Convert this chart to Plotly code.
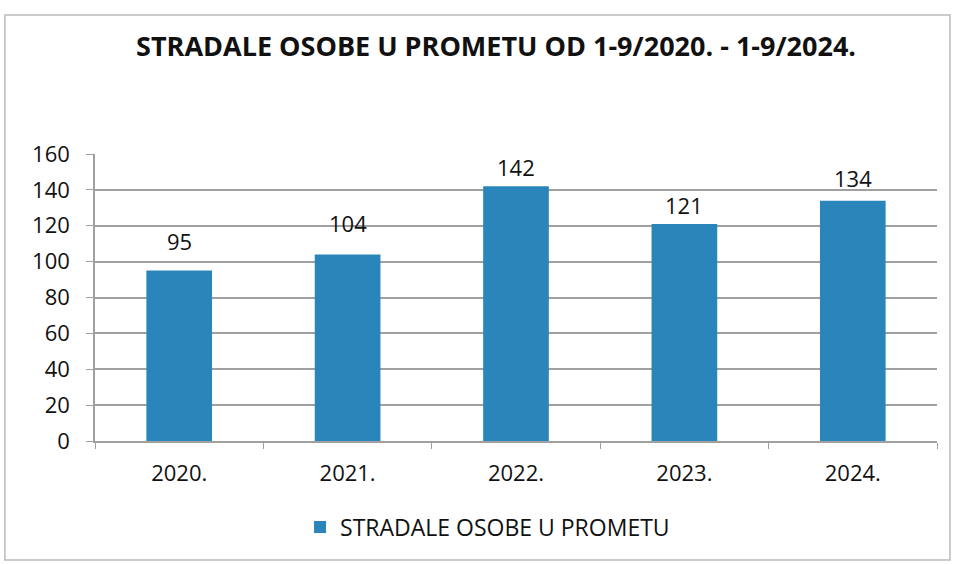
import plotly.graph_objects as go

categories = ["2020.", "2021.", "2022.", "2023.", "2024."]
values = [95, 104, 142, 121, 134]
series_name = "STRADALE OSOBE U PROMETU"
title_text = "STRADALE OSOBE U PROMETU OD 1-9/2020. - 1-9/2024."
y_ticks = [0, 20, 40, 60, 80, 100, 120, 140, 160]

bar_color = "#2a86ba"
grid_color = "#a0a0a0"
font_family = "Open Sans, sans-serif"
# vertical offsets (px) of the value labels, as placed in the original chart
label_yshift = [13, 14, 2, 2, 6]

fig = go.Figure()
fig.add_trace(go.Bar(
    x=categories, y=values, name=series_name,
    marker=dict(color=bar_color, line=dict(width=0)),
    width=0.39, showlegend=True,
))

for i, v in enumerate(values):
    fig.add_annotation(x=i, y=v, text=str(v), showarrow=False,
                       yanchor="bottom", yshift=label_yshift[i],
                       font=dict(size=22, color="#111", family=font_family))

fig.update_layout(
    width=954, height=564,
    margin=dict(l=95, r=17, t=154, b=123),
    paper_bgcolor="white", plot_bgcolor="white",
    title=dict(text="<b>" + title_text + "</b>", x=0.52, xanchor="center",
               y=0.918, yanchor="middle",
               font=dict(size=27, color="#111", family=font_family)),
    legend=dict(orientation="h", x=0.2435, xanchor="left", y=-0.30, yanchor="middle",
                font=dict(size=23, color="#111", family=font_family)),
    xaxis=dict(type="category", categoryorder="array", categoryarray=categories,
               range=[-0.5, len(categories) - 0.5],
               showgrid=False, showline=True, linecolor=grid_color,
               linewidth=1.5, ticks="outside", tickson="boundaries", ticklen=6,
               tickcolor=grid_color, ticklabelstandoff=12,
               tickfont=dict(size=22, color="#111", family=font_family)),
    yaxis=dict(range=[0, 160], tickvals=y_ticks, showgrid=True, gridcolor=grid_color,
               gridwidth=1.5, showline=True, linecolor=grid_color, linewidth=1.5,
               ticks="outside", ticklen=7, tickcolor=grid_color, zeroline=False,
               ticklabelstandoff=12,
               tickfont=dict(size=22, color="#111", family=font_family)),
    shapes=[dict(type="rect", xref="paper", yref="paper",
                 x0=-0.107, x1=1.0154, y0=-0.415, y1=1.484,
                 line=dict(color="#bbbbbb", width=1.5), layer="below")],
)

fig.write_html("out.html", config={"displayModeBar": False},
               post_script="document.body.style.margin='0';")
